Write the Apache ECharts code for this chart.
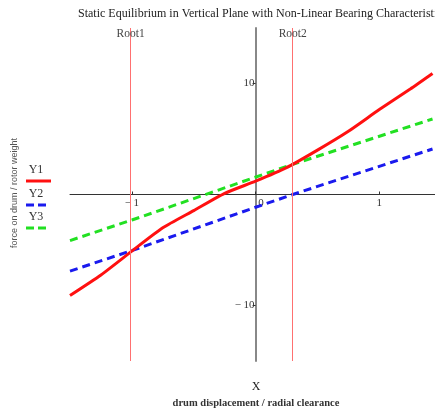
<!DOCTYPE html>
<html>
<head>
<meta charset="utf-8">
<script src="https://cdn.jsdelivr.net/npm/echarts@6/dist/echarts.min.js"></script>
<style>
  html, body { margin: 0; padding: 0; background: #fff; }
  #chart { width: 435px; height: 408px; }
</style>
</head>
<body>
<div id="chart"></div>
<script>
// 数据
var y1X = [-1.5, -1.25, -1, -0.75, -0.5, -0.25, 0, 0.25, 0.5, 0.75, 1, 1.25, 1.43];
var y1Val = [-9.1, -7.25, -5.1, -3.0, -1.45, 0.1, 1.2, 2.42, 4.0, 5.7, 7.65, 9.5, 10.9];
var y2X = [-1.5, -1, 0, 0.3, 1.43];
var y2Val = [-6.9, -5.05, -1.15, 0, 4.1];
var y3X = [-1.5, -1, 0.3, 1.43];
var y3Val = [-4.15, -2.3, 2.72, 6.8];
var roots = [-1.01, 0.3];
var rootNames = ['Root1', 'Root2'];
var xTicks = [-1, 0, 1];
var yTicks = [-10, 10];

var serif = '"Liberation Serif", "DejaVu Serif", serif';
var gridBox = { left: 70, right: 0, top: 28, bottom: 47 };
var xMin = -1.5, xMax = 1.45, yMin = -15, yMax = 15;

var pairs = function (xs, ys) {
    var data = [];
    for (let i in xs) {
        data.push([xs[i], ys[i]]);
    }
    return data;
};

var minusFmt = function (v) {
    if (v === 0) return '    0';   // 0 标签偏到纵轴右边
    return v < 0 ? '\u2212 ' + Math.abs(v) : String(v);
};

// 坐标轴移到零点：用 offset 把整条轴（线、刻度、标签）挪过去
var gridW = 435 - gridBox.left - gridBox.right;
var gridH = 408 - gridBox.top - gridBox.bottom;
var xOffset = -gridH * (0 - yMin) / (yMax - yMin);
var yOffset = -gridW * (0 - xMin) / (xMax - xMin);

var my_chart = echarts.init(document.getElementById('chart'));
var option = {
    animation: false,
    grid: gridBox,
    xAxis: {
        type: 'value',
        min: xMin,
        max: xMax,
        offset: xOffset,
        axisLine: { onZero: false, lineStyle: { color: '#333', width: 1 } },
        axisTick: { show: true, inside: true, customValues: xTicks, length: 3, lineStyle: { color: '#333' } },
        axisLabel: {
            customValues: xTicks,
            formatter: minusFmt,
            fontFamily: serif, fontSize: 11, color: '#333', margin: 3
        },
        splitLine: { show: false }
    },
    yAxis: {
        type: 'value',
        min: yMin,
        max: yMax,
        offset: yOffset,
        axisLine: { onZero: false, lineStyle: { color: '#888', width: 2 } },
        axisTick: { show: true, customValues: yTicks, length: 3, lineStyle: { color: '#333' } },
        axisLabel: {
            customValues: yTicks,
            formatter: minusFmt,
            fontFamily: serif, fontSize: 11, color: '#333', margin: 1
        },
        splitLine: { show: false }
    },
    series: [
        {
            name: 'Y1', type: 'line', data: pairs(y1X, y1Val), smooth: 0.2,
            symbol: 'none', lineStyle: { color: '#ff1010', width: 3 }, z: 4,
            markLine: {
                silent: true, symbol: 'none', animation: false,
                label: { show: false },
                lineStyle: { color: '#ff7070', width: 1, type: 'solid' },
                data: [{ xAxis: roots[0] }, { xAxis: roots[1] }]
            }
        },
        {
            name: 'Y2', type: 'line', data: pairs(y2X, y2Val),
            symbol: 'none', lineStyle: { color: '#1a1aee', width: 3, type: [8, 5] }, z: 3
        },
        {
            name: 'Y3', type: 'line', data: pairs(y3X, y3Val),
            symbol: 'none', lineStyle: { color: '#22e022', width: 3, type: [8, 5] }, z: 3
        }
    ],
    graphic: [
        { type: 'text', left: 78, top: 8, style: { text: 'Static Equilibrium in Vertical Plane with Non-Linear Bearing Characteristic', font: '12px ' + serif, fill: '#222' } },
        { type: 'text', x: 256, y: 387, style: { text: 'X', font: '12px ' + serif, fill: '#222', align: 'center', verticalAlign: 'middle' } },
        { type: 'text', x: 256, y: 403, style: { text: 'drum displacement / radial clearance', font: 'bold 10.5px ' + serif, fill: '#333', align: 'center', verticalAlign: 'middle' } },
        { type: 'text', x: 15, y: 193, rotation: Math.PI / 2, style: { text: 'force on drum / rotor weight', font: '9px "Liberation Sans", Arial, sans-serif', fill: '#555', align: 'center', verticalAlign: 'middle' } },
        // 图例
        { type: 'text', x: 36, y: 170, style: { text: 'Y1', font: '12px ' + serif, fill: '#333', align: 'center', verticalAlign: 'middle' } },
        { type: 'line', shape: { x1: 26, y1: 181, x2: 51, y2: 181 }, style: { stroke: '#ff1010', lineWidth: 3 } },
        { type: 'text', x: 36, y: 194, style: { text: 'Y2', font: '12px ' + serif, fill: '#333', align: 'center', verticalAlign: 'middle' } },
        { type: 'line', shape: { x1: 26, y1: 205, x2: 46, y2: 205 }, style: { stroke: '#1a1aee', lineWidth: 3, lineDash: [8, 4] } },
        { type: 'text', x: 36, y: 217, style: { text: 'Y3', font: '12px ' + serif, fill: '#333', align: 'center', verticalAlign: 'middle' } },
        { type: 'line', shape: { x1: 26, y1: 228, x2: 46, y2: 228 }, style: { stroke: '#22e022', lineWidth: 3, lineDash: [8, 4] } }
    ]
};
my_chart.setOption(option);

// Root 标签放在竖线顶端
var rootLabels = [];
for (let i in roots) {
    var p = my_chart.convertToPixel({ gridIndex: 0 }, [roots[i], yMax]);
    rootLabels.push({ type: 'text', x: p[0], y: p[1] + 6, z: 10, style: { text: rootNames[i], font: '11.5px ' + serif, fill: '#444', align: 'center', verticalAlign: 'middle' } });
}
my_chart.setOption({ graphic: option.graphic.concat(rootLabels) });
</script>
</body>
</html>
